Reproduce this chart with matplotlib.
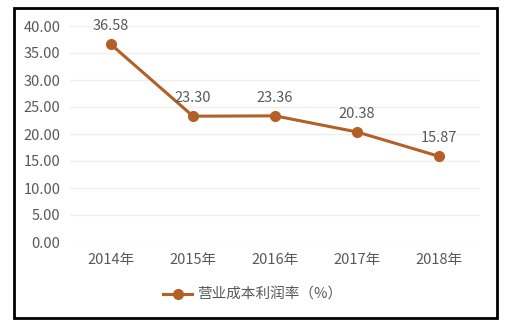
import matplotlib as mpl
mpl.use('Agg')
import matplotlib.pyplot as plt
from matplotlib.patches import Rectangle

plt.rcParams['font.family'] = ['Noto Sans CJK SC', 'DejaVu Sans']

years = ['2014年', '2015年', '2016年', '2017年', '2018年']
rate = [36.58, 23.30, 23.36, 20.38, 15.87]
yticks = [0, 5, 10, 15, 20, 25, 30, 35, 40]
series_name = '营业成本利润率（%）'

line_color = '#B45F27'
text_color = '#595959'

fig = plt.figure(figsize=(5.05, 3.27), dpi=100)
ax = fig.add_axes([70/505, 1-242/327, 410/505, 216/327])

x = list(range(len(years)))
ax.plot(x, rate, color=line_color, lw=2.2, marker='o', ms=7,
        label=series_name, clip_on=False, zorder=3)
for xi, v in zip(x, rate):
    ax.annotate('%.2f' % v, (xi, v), xytext=(0, 8), textcoords='offset points',
                ha='center', va='bottom', fontsize=10.5, color=text_color)

ax.set_xlim(-0.5, len(years) - 0.5)
ax.set_ylim(0, 40)
ax.set_xticks(x)
ax.set_xticklabels(years)
ax.set_yticks(yticks)
ax.set_yticklabels(['%.2f' % t for t in yticks])
ax.tick_params(length=0, labelsize=10.5, labelcolor=text_color)
ax.tick_params(axis='x', pad=8)
ax.tick_params(axis='y', pad=7)
ax.grid(axis='y', color='#EFEFEF', lw=1)
ax.set_axisbelow(True)
for s in ax.spines.values():
    s.set_visible(False)

fig.legend(loc='center', bbox_to_anchor=(0.5, 1-295/327), frameon=False,
           fontsize=10.5, labelcolor=text_color, handlelength=2.0, handletextpad=0.3)

fig.patches.append(Rectangle((14/505, 1-318/327), 483/505, 310/327,
                             transform=fig.transFigure, fill=False,
                             edgecolor='black', lw=2))

fig.savefig('out.png', dpi=100)
